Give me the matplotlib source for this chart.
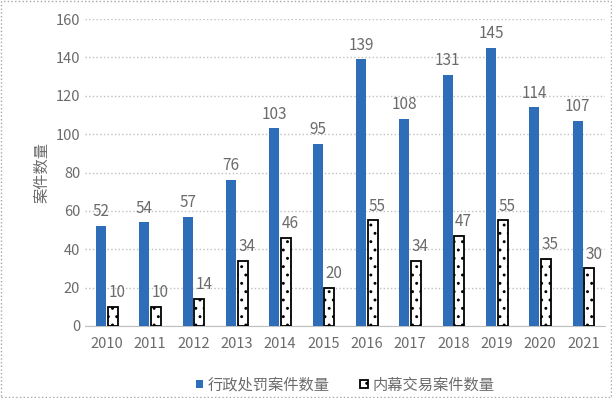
import numpy as np
import matplotlib.pyplot as plt

plt.rcParams['font.family'] = ['Noto Sans CJK SC', 'DejaVu Sans']
plt.rcParams['hatch.linewidth'] = 0.9

years = ['2010', '2011', '2012', '2013', '2014', '2015', '2016', '2017', '2018', '2019', '2020', '2021']
admin_cases = [52, 54, 57, 76, 103, 95, 139, 108, 131, 145, 114, 107]
insider_cases = [10, 10, 14, 34, 46, 20, 55, 34, 47, 55, 35, 30]

gray = '#6B6B6B'
fig = plt.figure(figsize=(6.12, 3.98), dpi=100)
ax = fig.add_axes([0.139, 0.181, 0.85, 0.771])

x = np.arange(len(years))
w = 0.23
b1 = ax.bar(x - w / 2 - 0.02, admin_cases, w, color='#2E6DB8', label='行政处罚案件数量', zorder=3)
b2 = ax.bar(x + w / 2 + 0.02, insider_cases, w, color='white', edgecolor='black', linewidth=1.3,
            hatch='..', label='内幕交易案件数量', zorder=3)

for rect, v in zip(b1, admin_cases):
    ax.text(rect.get_x() + rect.get_width() / 2, v + 3, str(v), ha='center', va='bottom',
            fontsize=11, color=gray)
for rect, v in zip(b2, insider_cases):
    ax.text(rect.get_x() + rect.get_width() / 2 + 0.1, v + 3, str(v), ha='center', va='bottom',
            fontsize=11, color=gray)

ax.set_xlim(-0.5, len(years) - 0.5)
ax.set_ylim(0, 160)
ax.set_yticks(range(0, 161, 20))
ax.set_xticks(x)
ax.set_xticklabels(years)
ax.tick_params(length=0, labelsize=10.5, colors=gray)
ax.tick_params(axis='x', pad=8)
ax.grid(axis='y', color='#BFBFBF', linestyle=':', linewidth=1, zorder=0)
for s in ['top', 'right', 'left']:
    ax.spines[s].set_visible(False)
ax.spines['bottom'].set_color('#BFBFBF')
ax.set_ylabel('案件数量', fontsize=11, color=gray, labelpad=4)

ax.legend(loc='upper center', bbox_to_anchor=(0.5, -0.12), ncol=2, frameon=False,
          fontsize=11, labelcolor=gray, handlelength=0.5, handleheight=0.5,
          handletextpad=0.3, columnspacing=2)

fig.patches.append(plt.Rectangle((0.002, 0.002), 0.996, 0.996, transform=fig.transFigure,
                                 fill=False, edgecolor='#A6A6A6', linestyle=':', linewidth=1))

fig.savefig('out.png', dpi=100)
